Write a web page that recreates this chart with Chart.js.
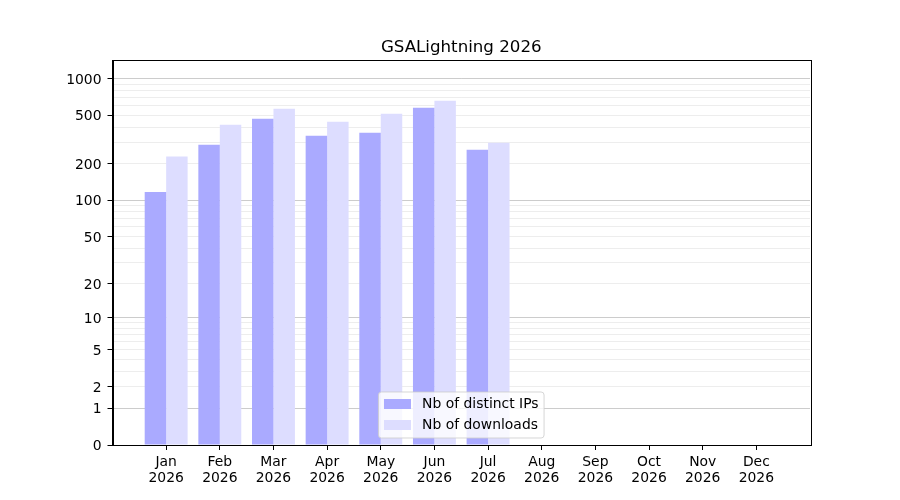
<!DOCTYPE html>
<html lang="en">
<head>
    <meta charset="UTF-8">
    <title>GSALightning 2026</title>
    <script src="https://cdn.jsdelivr.net/npm/chart.js@4"></script>
    <style>
      body { margin: 0; background: #fff; }
    </style>
</head>
<body>
    <canvas id="statsChart" width="900" height="500"></canvas>
<script>
  // chart data
  const chartTitle = 'GSALightning 2026';
  const year = '2026';
  const months = ['Jan', 'Feb', 'Mar', 'Apr', 'May', 'Jun', 'Jul', 'Aug', 'Sep', 'Oct', 'Nov', 'Dec'];
  const distinctIPs = [117, 287, 469, 340, 360, 577, 261, null, null, null, null, null];
  const downloads = [229, 419, 567, 443, 516, 659, 298, null, null, null, null, null];
  const yTickLabels = [0, 1, 2, 5, 10, 20, 50, 100, 200, 500, 1000];
  const yMax = 1421;

  // y axis is log10(1 + v), like a symlog axis
  const f = v => Math.log10(1 + v);

  class Log1pScale extends Chart.LinearScale {
    static id = 'log1p';
    static defaults = {};
    buildTicks() {
      // one tick per grid line: 1..9, 10..90, 100..900, 1000
      const ticks = [{ value: 0 }];
      for (let d = 1; d <= 1000; d *= 10) {
        for (let m = 1; m <= 9; m++) {
          const v = m * d;
          if (v <= this.max) ticks.push({ value: v });
        }
      }
      return ticks;
    }
    getPixelForValue(value) {
      const a = f(this.min), b = f(this.max);
      return this.getPixelForDecimal((f(value) - a) / (b - a));
    }
    getValueForPixel(pixel) {
      const a = f(this.min), b = f(this.max);
      return Math.pow(10, a + this.getDecimalForPixel(pixel) * (b - a)) - 1;
    }
  }
  Chart.register(Log1pScale);

  const isDecade = v => v >= 1 && Math.abs(Math.log10(v) - Math.round(Math.log10(v))) < 1e-9;

  // frame on all four sides + legend inside the axes, lower center
  const framePlugin = {
    id: 'frameAndLegend',
    afterDraw(chart) {
      const { ctx, chartArea: a } = chart;
      ctx.save();
      ctx.strokeStyle = '#000';
      ctx.lineWidth = 1;
      ctx.strokeRect(Math.round(a.left) + 0.5, Math.round(a.top) + 0.5,
                     Math.round(a.right - a.left), Math.round(a.bottom - a.top));

      const fs = 13.9;
      ctx.font = fs + 'px "DejaVu Sans"';
      const sets = chart.data.datasets;
      const textW = Math.max(...sets.map(d => ctx.measureText(d.label).width));
      const pad = 0.4 * fs, handle = 27, gap = 0.8 * fs, rowH = 21;
      const w = pad + handle + gap + textW + pad;
      const h = 46;
      const x0 = (a.left + a.right) / 2 - w / 2;
      const y0 = a.bottom - 7 - h;
      ctx.beginPath();
      ctx.roundRect(x0, y0, w, h, 3);
      ctx.fillStyle = 'rgba(255,255,255,0.8)';
      ctx.fill();
      ctx.strokeStyle = 'rgba(204,204,204,0.8)';
      ctx.stroke();
      ctx.textBaseline = 'middle';
      ctx.textAlign = 'left';
      sets.forEach((d, i) => {
        const cy = y0 + 12 + rowH * i;
        ctx.fillStyle = d.backgroundColor;
        ctx.fillRect(x0 + pad, cy - 5, handle, 10);
        ctx.fillStyle = '#000';
        ctx.fillText(d.label, x0 + pad + handle + gap, cy);
      });
      ctx.restore();
    }
  };

  const xLabels = ['', ...months.map(m => [m, year]), ''];
  const pad = arr => [null, ...arr, null];

  const ctx = document.getElementById('statsChart').getContext('2d');
  Chart.defaults.font.family = '"DejaVu Sans", sans-serif';
  Chart.defaults.color = '#000';

  new Chart(ctx, {
    type: 'bar',
    data: {
      labels: xLabels,
      datasets: [
        { label: 'Nb of distinct IPs', data: pad(distinctIPs), backgroundColor: '#aaaaff' },
        { label: 'Nb of downloads', data: pad(downloads), backgroundColor: '#ddddff' },
      ],
    },
    options: {
      responsive: false,
      animation: false,
      layout: { padding: { left: 0, right: 90, top: 0, bottom: 0 } },
      datasets: { bar: { categoryPercentage: 0.8, barPercentage: 1.0, borderWidth: 0 } },
      plugins: {
        legend: { display: false },
        tooltip: { enabled: false },
        title: {
          display: true,
          fullSize: false,
          text: chartTitle,
          color: '#000',
          font: { size: 16.67, weight: 'normal' },
          padding: { top: 38, bottom: 2 },
        },
      },
      scales: {
        x: {
          offset: false,
          afterFit: s => { s.height = 55; },
          grid: {
            offset: false,
            drawOnChartArea: false,
            tickLength: 5,
            tickColor: c => (c.index === 0 || c.index === xLabels.length - 1) ? 'rgba(0,0,0,0)' : '#000',
          },
          border: { color: '#000' },
          ticks: {
            autoSkip: false,
            maxRotation: 0,
            padding: 5,
            font: { size: 13.9, lineHeight: 1.1 },
          },
        },
        y: {
          type: 'log1p',
          min: 0,
          max: yMax,
          z: 1,
          afterFit: s => { s.width = 112.5; },
          grid: {
            tickLength: 5,
            color: c => c.tick.value === 0 ? 'rgba(0,0,0,0)'
              : isDecade(c.tick.value) ? 'rgba(0,0,0,0.2)' : 'rgba(0,0,0,0.07)',
            tickColor: c => yTickLabels.includes(c.tick.value) ? '#000' : 'rgba(0,0,0,0)',
          },
          border: { color: '#000' },
          ticks: {
            autoSkip: false,
            padding: 6,
            labelOffset: 1.5,
            font: { size: 13.9 },
            callback: v => yTickLabels.includes(v) ? String(v) : '',
          },
        },
      },
    },
    plugins: [framePlugin],
  });
</script>
</body>
</html>
